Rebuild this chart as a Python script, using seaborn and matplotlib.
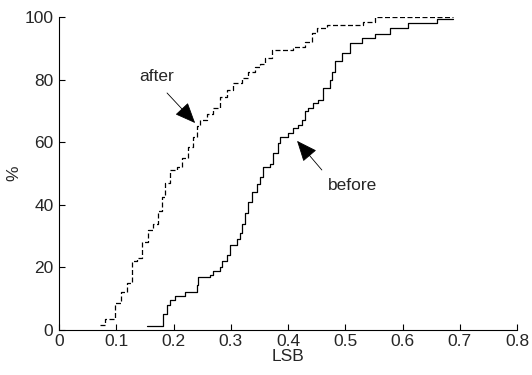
import matplotlib
matplotlib.use("Agg")
import matplotlib.pyplot as plt
import seaborn as sns
import pandas as pd
from matplotlib.patches import FancyArrowPatch

# "after" (dashed) cumulative distribution: step positions (LSB) and levels (%)
after_x = [0.072, 0.080, 0.098, 0.108, 0.119, 0.128, 0.136, 0.145, 0.155, 0.164,
           0.173, 0.180, 0.185, 0.194, 0.206, 0.215, 0.225, 0.234, 0.241, 0.246,
           0.259, 0.269, 0.281, 0.293, 0.304, 0.320, 0.330, 0.342, 0.351, 0.360,
           0.372, 0.409, 0.430, 0.442, 0.451, 0.468, 0.531, 0.552, 0.688]
after_y = [1.6, 3.5, 8.6, 12, 15, 22, 23, 28, 32, 34,
           38, 42.5, 47, 51, 52, 55, 58.5, 61.7, 65, 67,
           69, 71, 74.5, 76.7, 79, 80.5, 82.4, 84, 85, 87,
           89.5, 90.4, 92, 95, 96.5, 97.4, 98.4, 100, 100]

# "before" (solid) cumulative distribution
before_x = [0.154, 0.182, 0.189, 0.194, 0.203, 0.220, 0.241, 0.243, 0.264, 0.269,
            0.281, 0.285, 0.293, 0.299, 0.311, 0.316, 0.320, 0.325, 0.330, 0.337,
            0.346, 0.351, 0.356, 0.369, 0.374, 0.383, 0.386, 0.400, 0.409, 0.417,
            0.424, 0.430, 0.435, 0.444, 0.452, 0.461, 0.473, 0.477, 0.482, 0.494,
            0.508, 0.529, 0.552, 0.578, 0.610, 0.660, 0.688]
before_y = [1.3, 5, 8, 9.6, 11, 12, 14.5, 17, 17.5, 19,
            20, 22, 24, 27, 29, 31, 34, 37.5, 41, 44,
            46.5, 49, 52, 53, 56.5, 59.7, 61.7, 63, 64.5, 65.5,
            67, 70, 71, 72.5, 73.5, 77.3, 80, 82.4, 86, 88.5,
            91.7, 93.3, 94.6, 96.5, 98, 99.3, 99.3]

x_ticks = [0, 0.1, 0.2, 0.3, 0.4, 0.5, 0.6, 0.7, 0.8]
x_tick_labels = ["0", "0.1", "0.2", "0.3", "0.4", "0.5", "0.6", "0.7", "0.8"]
y_ticks = [0, 20, 40, 60, 80, 100]

sns.set_style("ticks")
plt.rcParams["font.family"] = ["Liberation Sans", "DejaVu Sans"]
plt.rcParams["xtick.direction"] = "in"
plt.rcParams["ytick.direction"] = "in"

fig = plt.figure(figsize=(5.32, 3.75), dpi=100)
ax = fig.add_axes([0.111, 0.12, 0.861, 0.835])

df_after = pd.DataFrame({"LSB": after_x, "pct": after_y})
df_before = pd.DataFrame({"LSB": before_x, "pct": before_y})

sns.lineplot(data=df_after, x="LSB", y="pct", ax=ax, estimator=None,
             drawstyle="steps-post", color="black", lw=0.9,
             linestyle=(0, (4, 2)))
sns.lineplot(data=df_before, x="LSB", y="pct", ax=ax, estimator=None,
             drawstyle="steps-post", color="black", lw=0.9)

ax.set_xlim(0, 0.8)
ax.set_ylim(0, 100)
ax.set_xticks(x_ticks)
ax.set_xticklabels(x_tick_labels)
ax.set_yticks(y_ticks)
ax.tick_params(labelsize=12.5, length=4, width=0.8, color="black")
ax.tick_params(axis="x", pad=3)
ax.tick_params(axis="y", pad=4)
ax.set_xlabel("LSB", fontsize=12.5, labelpad=0)
ax.set_ylabel("%", fontsize=12.5, labelpad=2)
for s in ["top", "right"]:
    ax.spines[s].set_visible(False)
for s in ["left", "bottom"]:
    ax.spines[s].set_linewidth(0.8)
    ax.spines[s].set_color("black")

# annotations
ax.text(0.171, 80.8, "after", fontsize=12.5, ha="center", va="center")
ax.text(0.512, 46.3, "before", fontsize=12.5, ha="center", va="center")

for tail, tip in [((0.1886, 75.7), (0.2376, 66.1)), ((0.459, 51.1), (0.4157, 60.4))]:
    arr = FancyArrowPatch(tail, tip, arrowstyle="-|>,head_length=13,head_width=5.5",
                          mutation_scale=1, color="black", lw=0.6,
                          shrinkA=0, shrinkB=0)
    ax.add_patch(arr)

fig.savefig("out.png", dpi=100)
